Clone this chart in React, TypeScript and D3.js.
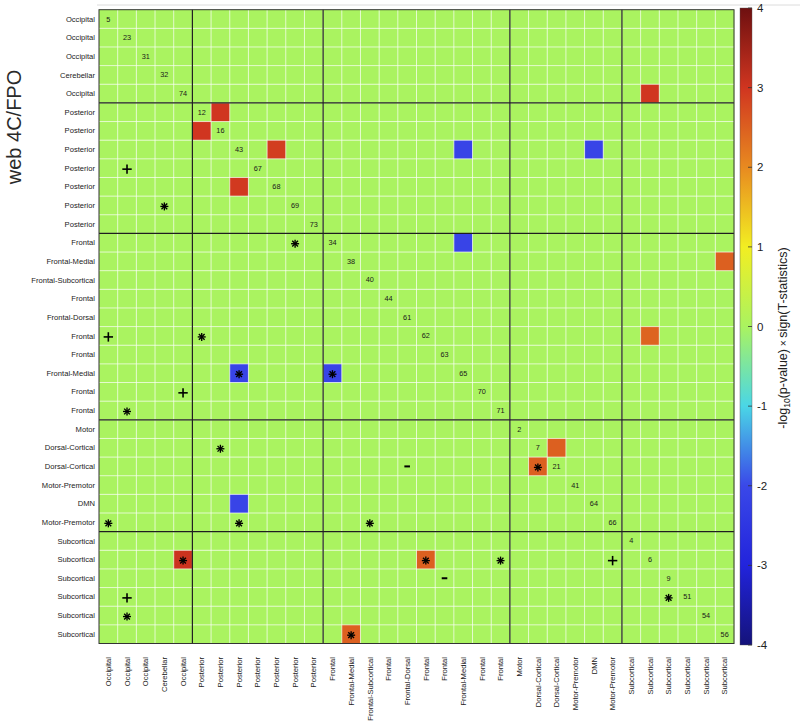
import React from "react";
import * as d3 from "d3";

// ---------- data ----------
const regionLabels = [
  "Occipital", "Occipital", "Occipital", "Cerebellar", "Occipital",
  "Posterior", "Posterior", "Posterior", "Posterior", "Posterior", "Posterior", "Posterior",
  "Frontal", "Frontal-Medial", "Frontal-Subcortical", "Frontal", "Frontal-Dorsal",
  "Frontal", "Frontal", "Frontal-Medial", "Frontal", "Frontal",
  "Motor", "Dorsal-Cortical", "Dorsal-Cortical", "Motor-Premotor", "DMN", "Motor-Premotor",
  "Subcortical", "Subcortical", "Subcortical", "Subcortical", "Subcortical", "Subcortical",
];
const componentIds = [5, 23, 31, 32, 74, 12, 16, 43, 67, 68, 69, 73, 34, 38, 40, 44, 61, 62, 63, 65, 70, 71, 2, 7, 21, 41, 64, 66, 4, 6, 9, 51, 54, 56];
const groupSizes = [5, 7, 10, 6, 6];

// significant cells: row index, column index, value (-log10(p) * sign(T))
const sigRow = [4, 5, 6, 7, 7, 7, 9, 12, 13, 17, 19, 19, 23, 24, 26, 29, 29, 33];
const sigCol = [29, 6, 5, 9, 19, 26, 7, 19, 33, 29, 7, 12, 24, 23, 7, 4, 17, 13];
const sigValue = [3.0, 3.0, 3.0, 2.9, -2.1, -2.1, 2.95, -2.1, 2.5, 2.45, -2.1, -2.1, 2.5, 2.5, -2.1, 3.05, 2.5, 2.5];

// markers: row, column, type
const markRow = [8, 10, 12, 17, 17, 19, 19, 20, 21, 23, 24, 24, 27, 27, 27, 29, 29, 29, 29, 30, 31, 31, 32, 33];
const markCol = [1, 3, 10, 0, 5, 7, 12, 4, 1, 6, 16, 23, 0, 7, 14, 4, 17, 21, 27, 18, 1, 30, 1, 13];
const markType = ["+", "*", "*", "+", "*", "*", "*", "+", "*", "*", "-", "*", "*", "*", "*", "*", "*", "*", "+", "-", "+", "*", "*", "*"];

const colorTicks = [-4, -3, -2, -1, 0, 1, 2, 3, 4];
const colorStops = ["#14127a", "#2224dc", "#3a48e8", "#4ad6e6", "#aaf360", "#f2ee22", "#e88a20", "#d03520", "#6e1010"];

// ---------- layout ----------
const W = 800, H = 723;
const left = 99, right = 734, top = 9.7, bottom = 643.5;
const FONT = "'Liberation Sans', Arial, Helvetica, sans-serif";

export default function App() {
  const n = regionLabels.length;
  const idx = d3.range(n);
  const x = d3.scaleBand<number>().domain(idx).range([left, right]);
  const y = d3.scaleBand<number>().domain(idx).range([top, bottom]);
  const color = d3.scaleLinear<string>().domain(colorTicks).range(colorStops).interpolate(d3.interpolateRgb).clamp(true);

  const values: number[][] = idx.map(() => idx.map(() => 0));
  sigRow.forEach((r, i) => { values[r][sigCol[i]] = sigValue[i]; });

  const bounds: number[] = [];
  let acc = 0;
  groupSizes.slice(0, -1).forEach((g) => { acc += g; bounds.push(acc); });

  const cbY = d3.scaleLinear().domain([-4, 4]).range([645, 8]);
  const cbX = 740, cbW = 12;
  const gradStops = d3.range(0, 41).map((i) => -4 + (8 * i) / 40);

  const bw = x.bandwidth();
  const bh = y.bandwidth();

  return (
    <svg width={W} height={H} style={{ position: "fixed", left: 0, top: 0, background: "#fff" }} fontFamily={FONT}>
      <defs>
        <linearGradient id="cb" x1="0" y1="1" x2="0" y2="0">
          {gradStops.map((v, i) => (
            <stop key={i} offset={(v + 4) / 8} stopColor={color(v)} />
          ))}
        </linearGradient>
      </defs>
      <line x1={97} x2={800} y1={5} y2={5} stroke="#dcdcdc" strokeWidth={1} />

      {/* cells */}
      {idx.map((r) =>
        idx.map((c) => (
          <rect key={`${r}-${c}`} x={x(c)} y={y(r)} width={bw + 0.3} height={bh + 0.3} fill={color(values[r][c])} />
        ))
      )}
      {/* white grid */}
      {d3.range(1, n).map((i) => (
        <g key={`g${i}`}>
          <line x1={x(i)} x2={x(i)} y1={top} y2={bottom} stroke="#ffffff" strokeOpacity={0.75} strokeWidth={0.9} />
          <line x1={left} x2={right} y1={y(i)} y2={y(i)} stroke="#ffffff" strokeOpacity={0.75} strokeWidth={0.9} />
        </g>
      ))}
      {/* group lines */}
      {bounds.map((b) => (
        <g key={`b${b}`}>
          <line x1={x(b)} x2={x(b)} y1={top} y2={bottom} stroke="#1e1e1e" strokeWidth={1.2} />
          <line x1={left} x2={right} y1={y(b)} y2={y(b)} stroke="#1e1e1e" strokeWidth={1.2} />
        </g>
      ))}
      <rect x={left} y={top} width={right - left} height={bottom - top} fill="none" stroke="#333" strokeWidth={1} />

      {/* diagonal ids */}
      {componentIds.map((id, i) => (
        <text key={`d${i}`} x={x(i)! + bw / 2} y={y(i)! + bh / 2 + 2.5} fontSize={7.3} textAnchor="middle" fill="#1a1a1a">
          {id}
        </text>
      ))}

      {/* markers */}
      {markRow.map((r, i) => {
        const cx = x(markCol[i])! + bw / 2;
        const cy = y(r)! + bh / 2 + 1;
        const t = markType[i];
        if (t === "+") {
          return (
            <g key={`m${i}`} stroke="#000" strokeWidth={1.6}>
              <line x1={cx - 4.7} x2={cx + 4.7} y1={cy} y2={cy} />
              <line x1={cx} x2={cx} y1={cy - 4.7} y2={cy + 4.7} />
            </g>
          );
        }
        if (t === "-") {
          return <line key={`m${i}`} x1={cx - 2.8} x2={cx + 2.8} y1={cy - 1} y2={cy - 1} stroke="#000" strokeWidth={2} />;
        }
        const s = 4, d = s * 0.72;
        return (
          <g key={`m${i}`} stroke="#000" strokeWidth={1.35}>
            <line x1={cx - s} x2={cx + s} y1={cy} y2={cy} />
            <line x1={cx} x2={cx} y1={cy - s} y2={cy + s} />
            <line x1={cx - d} x2={cx + d} y1={cy - d} y2={cy + d} />
            <line x1={cx - d} x2={cx + d} y1={cy + d} y2={cy - d} />
          </g>
        );
      })}

      {/* row labels */}
      {regionLabels.map((lab, i) => (
        <text key={`r${i}`} x={95} y={y(i)! + bh / 2 + 2.6} fontSize={7.6} textAnchor="end" fill="#222">
          {lab}
        </text>
      ))}
      {/* column labels */}
      {regionLabels.map((lab, i) => {
        const cx = x(i)! + bw / 2 + 2.7;
        const cy = 657;
        return (
          <text key={`c${i}`} transform={`translate(${cx},${cy}) rotate(-90)`} fontSize={7.6} textAnchor="end" fill="#222">
            {lab}
          </text>
        );
      })}

      {/* y title */}
      <text transform="translate(21,127) rotate(-90)" fontSize={20} textAnchor="middle" fill="#2a2a2a">
        web 4C/FPO
      </text>

      {/* colorbar */}
      <rect x={cbX} y={cbY(4)} width={cbW} height={cbY(-4) - cbY(4)} fill="url(#cb)" stroke="#555" strokeWidth={0.4} />
      {colorTicks.map((t) => (
        <g key={`t${t}`}>
          <line x1={cbX + cbW - 4} x2={cbX + cbW} y1={cbY(t)} y2={cbY(t)} stroke="#333" strokeWidth={0.8} />
          <text x={757} y={cbY(t) + 4} fontSize={11.5} fill="#222">
            {t}
          </text>
        </g>
      ))}
      <text transform="translate(787,338) rotate(-90)" fontSize={12.5} textAnchor="middle" fill="#222">
        -log<tspan fontSize={8.5} dy={3}>10</tspan>
        <tspan dy={-3}>(p-value)</tspan>
        <tspan fontSize={10}> × </tspan>
        <tspan>sign(T-statistics)</tspan>
      </text>
    </svg>
  );
}
